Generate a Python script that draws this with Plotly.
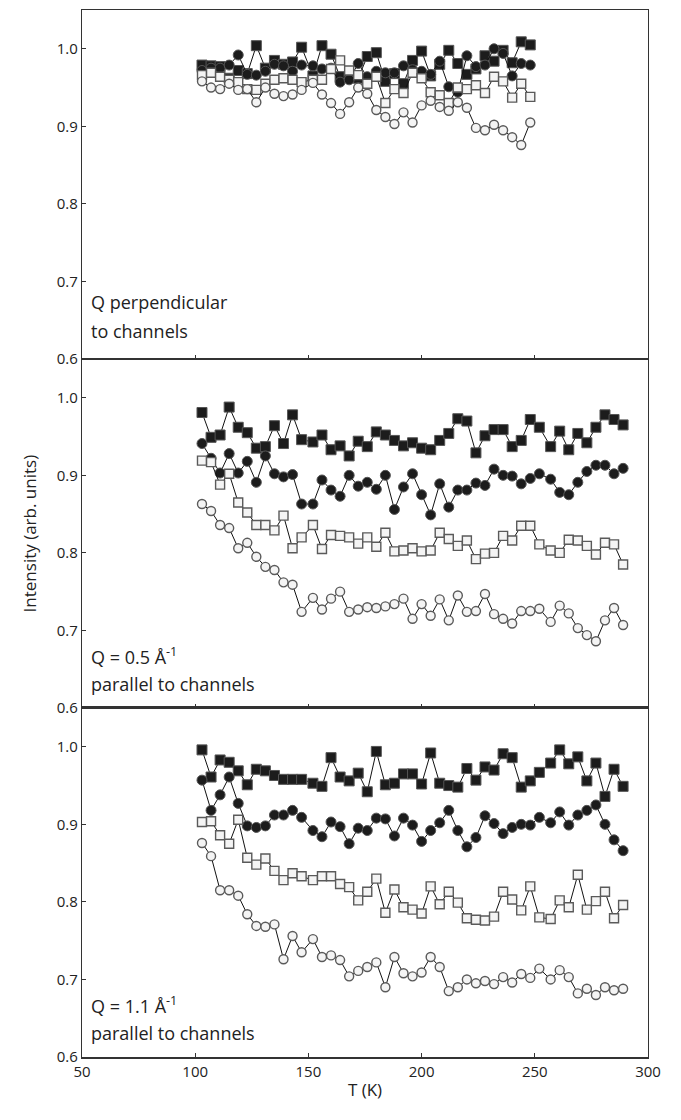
import plotly.graph_objects as go
from plotly.subplots import make_subplots

# Temperatures (K)
T = [103, 107, 111, 115, 119, 123, 127, 131, 135, 139, 143, 147, 152, 156, 160, 164,
     168, 172, 176, 180, 184, 188, 192, 196, 200, 204, 208, 212, 216, 220, 224, 228,
     232, 236, 240, 244, 248, 252, 257, 261, 265, 269, 273, 277, 281, 285, 289]

# Panel 1: Q perpendicular to channels (37 points)
p1_fsq = [0.979, 0.978, 0.977, 0.962, 0.972, 0.968, 1.004, 0.975, 0.985, 0.980, 0.983, 1.002,
          0.965, 1.004, 0.993, 0.964, 0.964, 0.962, 0.990, 0.995, 0.958, 0.968, 0.955, 0.985,
          0.997, 0.965, 0.980, 0.998, 0.981, 0.967, 0.974, 0.991, 0.984, 0.998, 0.982, 1.009, 1.005]
p1_fci = [0.972, 0.975, 0.975, 0.979, 0.992, 0.967, 0.966, 0.971, 0.980, 0.978, 0.971, 0.979,
          0.978, 0.974, 0.975, 0.957, 0.960, 0.981, 0.964, 0.971, 0.969, 0.969, 0.978, 0.973,
          0.971, 0.967, 0.984, 0.951, 0.944, 0.991, 0.977, 0.979, 1.000, 0.994, 0.965, 0.981, 0.979]
p1_osq = [0.966, 0.969, 0.964, 0.960, 0.957, 0.948, 0.947, 0.955, 0.960, 0.962, 0.960, 0.957,
          0.960, 0.960, 0.974, 0.985, 0.972, 0.966, 0.955, 0.964, 0.930, 0.948, 0.943, 0.969,
          0.962, 0.944, 0.940, 0.930, 0.950, 0.948, 0.953, 0.943, 0.964, 0.958, 0.937, 0.955, 0.938]
p1_oci = [0.958, 0.950, 0.948, 0.955, 0.947, 0.948, 0.931, 0.950, 0.942, 0.939, 0.941, 0.947,
          0.956, 0.941, 0.930, 0.916, 0.931, 0.950, 0.942, 0.921, 0.912, 0.903, 0.918, 0.905,
          0.927, 0.933, 0.925, 0.920, 0.931, 0.924, 0.898, 0.895, 0.902, 0.895, 0.886, 0.876, 0.905]

# Panel 2: Q = 0.5 A^-1 parallel to channels (47 points)
p2_fsq = [0.981, 0.949, 0.952, 0.988, 0.962, 0.955, 0.935, 0.937, 0.964, 0.941, 0.978, 0.946,
          0.943, 0.952, 0.933, 0.938, 0.925, 0.944, 0.937, 0.956, 0.952, 0.945, 0.938, 0.942,
          0.935, 0.933, 0.945, 0.954, 0.973, 0.970, 0.929, 0.951, 0.959, 0.959, 0.937, 0.945,
          0.972, 0.962, 0.937, 0.957, 0.933, 0.954, 0.942, 0.962, 0.978, 0.972, 0.965]
p2_fci = [0.941, 0.922, 0.903, 0.928, 0.903, 0.918, 0.891, 0.925, 0.902, 0.898, 0.901, 0.863,
          0.863, 0.894, 0.881, 0.873, 0.900, 0.886, 0.891, 0.882, 0.900, 0.856, 0.885, 0.902,
          0.875, 0.849, 0.889, 0.859, 0.881, 0.881, 0.890, 0.887, 0.908, 0.900, 0.899, 0.889,
          0.896, 0.902, 0.895, 0.878, 0.875, 0.891, 0.905, 0.913, 0.913, 0.902, 0.909]
p2_osq = [0.919, 0.917, 0.888, 0.902, 0.865, 0.852, 0.836, 0.836, 0.829, 0.848, 0.806, 0.820,
          0.836, 0.805, 0.823, 0.822, 0.820, 0.812, 0.820, 0.808, 0.826, 0.802, 0.803, 0.806,
          0.802, 0.803, 0.826, 0.818, 0.809, 0.816, 0.792, 0.799, 0.800, 0.822, 0.816, 0.835,
          0.835, 0.811, 0.803, 0.800, 0.817, 0.816, 0.809, 0.798, 0.813, 0.811, 0.785]
p2_oci = [0.863, 0.854, 0.836, 0.832, 0.806, 0.813, 0.795, 0.782, 0.778, 0.762, 0.759, 0.724,
          0.742, 0.727, 0.741, 0.750, 0.724, 0.727, 0.730, 0.729, 0.731, 0.734, 0.741, 0.715,
          0.734, 0.719, 0.740, 0.713, 0.745, 0.724, 0.725, 0.747, 0.721, 0.715, 0.709, 0.725,
          0.725, 0.728, 0.711, 0.732, 0.722, 0.703, 0.694, 0.686, 0.713, 0.729, 0.707]

# Panel 3: Q = 1.1 A^-1 parallel to channels (47 points)
p3_fsq = [0.996, 0.961, 0.983, 0.980, 0.969, 0.951, 0.971, 0.969, 0.963, 0.958, 0.958, 0.958,
          0.953, 0.949, 0.986, 0.961, 0.956, 0.966, 0.942, 0.994, 0.951, 0.953, 0.965, 0.965,
          0.952, 0.992, 0.953, 0.950, 0.948, 0.972, 0.957, 0.974, 0.970, 0.991, 0.986, 0.948,
          0.956, 0.967, 0.979, 0.996, 0.978, 0.987, 0.956, 0.979, 0.936, 0.971, 0.949]
p3_fci = [0.957, 0.918, 0.938, 0.961, 0.927, 0.898, 0.896, 0.898, 0.912, 0.912, 0.918, 0.909,
          0.892, 0.884, 0.903, 0.897, 0.875, 0.895, 0.892, 0.908, 0.907, 0.885, 0.908, 0.899,
          0.878, 0.892, 0.902, 0.918, 0.892, 0.871, 0.883, 0.911, 0.901, 0.888, 0.896, 0.900,
          0.899, 0.909, 0.902, 0.916, 0.899, 0.912, 0.918, 0.925, 0.900, 0.880, 0.866]
p3_osq = [0.903, 0.904, 0.886, 0.875, 0.906, 0.857, 0.848, 0.856, 0.840, 0.828, 0.837, 0.833,
          0.828, 0.833, 0.833, 0.823, 0.819, 0.802, 0.813, 0.830, 0.786, 0.816, 0.793, 0.790,
          0.785, 0.820, 0.797, 0.813, 0.799, 0.779, 0.777, 0.776, 0.781, 0.813, 0.803, 0.789,
          0.820, 0.780, 0.778, 0.802, 0.793, 0.835, 0.790, 0.801, 0.813, 0.779, 0.796]
p3_oci = [0.876, 0.859, 0.815, 0.815, 0.808, 0.784, 0.769, 0.768, 0.771, 0.726, 0.756, 0.735,
          0.752, 0.729, 0.731, 0.725, 0.704, 0.711, 0.716, 0.722, 0.690, 0.729, 0.708, 0.704,
          0.709, 0.729, 0.716, 0.685, 0.690, 0.700, 0.695, 0.698, 0.694, 0.703, 0.696, 0.707,
          0.702, 0.714, 0.700, 0.712, 0.703, 0.682, 0.688, 0.680, 0.690, 0.686, 0.688]

panels = [
    (p1_fsq, p1_fci, p1_osq, p1_oci),
    (p2_fsq, p2_fci, p2_osq, p2_oci),
    (p3_fsq, p3_fci, p3_osq, p3_oci),
]

FONT = "Open Sans"
fig = make_subplots(rows=3, cols=1, shared_xaxes=True, vertical_spacing=0)

styles = [
    dict(symbol="square", color="#1c1c1c", line=dict(color="#555555", width=1), size=10),
    dict(symbol="circle", color="#1c1c1c", line=dict(color="#555555", width=1), size=10),
    dict(symbol="square", color="#f4f4f4", line=dict(color="#5a5a5a", width=1.4), size=9),
    dict(symbol="circle", color="#f4f4f4", line=dict(color="#5a5a5a", width=1.4), size=9),
]

for r, series in enumerate(panels, start=1):
    for s, st in zip(series, styles):
        fig.add_trace(go.Scatter(
            x=T[:len(s)], y=s, mode="lines+markers",
            line=dict(color="#111111", width=1),
            marker=st, showlegend=False, cliponaxis=False,
        ), row=r, col=1)

for r in range(1, 4):
    fig.update_yaxes(range=[0.6, 1.05], tickvals=[0.6, 0.7, 0.8, 0.9, 1.0],
                     ticktext=["0.6", "0.7", "0.8", "0.9", "1.0"],
                     ticks="inside", ticklen=4, tickcolor="#333",
                     showline=True, mirror=True, linecolor="#333", linewidth=1.2,
                     showgrid=False, zeroline=False,
                     tickfont=dict(family=FONT, size=15, color="#222"), row=r, col=1)
    fig.update_xaxes(range=[50, 300], tickvals=[50, 100, 150, 200, 250, 300],
                     ticks="inside", ticklen=4, tickcolor="#333",
                     showline=True, mirror=True, linecolor="#333", linewidth=1.2,
                     showgrid=False, zeroline=False,
                     tickfont=dict(family=FONT, size=15, color="#222"), row=r, col=1)

fig.update_xaxes(title=dict(text="T (K)", font=dict(family=FONT, size=17, color="#222"), standoff=4),
                 linewidth=2.2, row=3, col=1)

fig.add_annotation(text="Intensity (arb. units)", xref="paper", yref="paper",
                   x=-0.092, y=0.5, xanchor="center", yanchor="middle",
                   textangle=-90, showarrow=False,
                   font=dict(family=FONT, size=17, color="#222"))

labels = [
    ("x domain", "y domain", ["Q perpendicular", "to channels"], [0.163, 0.081]),
    ("x2 domain", "y2 domain", ["Q = 0.5 Å<sup>-1</sup>", "parallel to channels"], [0.150, 0.068]),
    ("x3 domain", "y3 domain", ["Q = 1.1 Å<sup>-1</sup>", "parallel to channels"], [0.150, 0.068]),
]
for xr, yr, lines, ys in labels:
    for txt, yy in zip(lines, ys):
        fig.add_annotation(text=txt, xref=xr, yref=yr, x=0.012, y=yy,
                           xanchor="left", yanchor="middle", showarrow=False,
                           font=dict(family=FONT, size=18, color="#222"))

# the page body has an 8px default margin, so the figure is sized to fit the window
fig.update_layout(width=673, height=1112, margin=dict(l=74, r=33, t=2, b=63),
                  plot_bgcolor="white", paper_bgcolor="white")

fig.write_html("out.html")
